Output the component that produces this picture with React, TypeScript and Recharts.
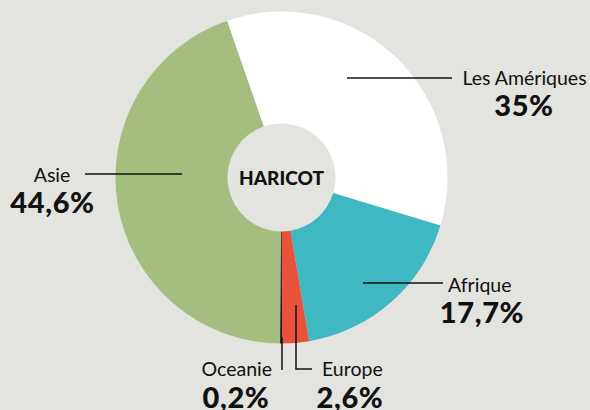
import React from "react";
import { PieChart, Pie, Cell } from "recharts";

const BG = "#e3e3df";
const INK = "#111111";

const regions = ["Asie", "Les Amériques", "Afrique", "Europe", "Oceanie"];
const shares = [44.6, 35, 17.7, 2.6, 0.2];
const colors = ["#a6bd80", "#ffffff", "#3fb8c1", "#e9523a", "#222222"];
const title = "HARICOT";

const data = regions.map((name, i) => ({ name, value: shares[i] }));

// label placement, offsets from the pie centre
type LabelLayout = {
  line: [number, number][];
  name: [number, number];
  pct: [number, number];
  anchor: "start" | "middle" | "end";
  pctAnchor?: "start" | "middle" | "end";
};

const layout: Record<string, LabelLayout> = {
  "Les Amériques": {
    line: [[65.5, -99.5], [170.5, -99.5]],
    name: [243, -92.5],
    pct: [242.5, -61.5],
    anchor: "middle",
  },
  Asie: {
    line: [[-99.5, -3.5], [-196.5, -3.5]],
    name: [-229.5, 4.5],
    pct: [-229, 35.5],
    anchor: "middle",
  },
  Afrique: {
    line: [[81.5, 105.5], [161.5, 105.5]],
    name: [166.5, 114.5],
    pct: [200.5, 145.5],
    anchor: "start",
    pctAnchor: "middle",
  },
  Oceanie: {
    line: [[0.5, 160], [0.5, 192.5]],
    name: [-9.5, 198.5],
    pct: [-45.5, 230.5],
    anchor: "end",
    pctAnchor: "middle",
  },
  Europe: {
    line: [[14.5, 127.5], [14.5, 191.5], [30.5, 191.5]],
    name: [40.5, 198.5],
    pct: [68.5, 230.5],
    anchor: "start",
    pctAnchor: "middle",
  },
};

const fmt = (v: number) => `${String(v).replace(".", ",")}%`;

function SliceLabel(props: any) {
  const { cx, cy, name, value } = props;
  const l = layout[name];
  if (!l) return null;
  const pts = l.line.map(([x, y]) => `${cx + x},${cy + y}`).join(" ");
  return (
    <g>
      <polyline points={pts} fill="none" stroke={INK} strokeWidth={1.5} />
      <text
        x={cx + l.name[0]}
        y={cy + l.name[1]}
        textAnchor={l.anchor}
        fill={INK}
        fontSize={19.5}
        fontFamily="Lato, sans-serif"
      >
        {name}
      </text>
      <text
        x={cx + l.pct[0]}
        y={cy + l.pct[1]}
        textAnchor={l.pctAnchor ?? l.anchor}
        fill={INK}
        fontSize={29}
        fontWeight={900}
        letterSpacing={0.6}
        fontFamily="Lato, sans-serif"
      >
        {fmt(value)}
      </text>
    </g>
  );
}

export default function App() {
  const cx = 281.5;
  const cy = 177.5;
  return (
    <div
      style={{
        position: "absolute",
        left: 0,
        top: 0,
        width: 590,
        height: 410,
        background: BG,
        overflow: "hidden",
      }}
    >
      <PieChart width={590} height={410} margin={{ top: 0, right: 0, bottom: 0, left: 0 }}>
        <Pie
          data={data}
          dataKey="value"
          nameKey="name"
          cx={cx}
          cy={cy}
          innerRadius={54}
          outerRadius={166}
          startAngle={-90.5}
          endAngle={-450.5}
          stroke="none"
          label={SliceLabel}
          labelLine={false}
          isAnimationActive={false}
        >
          {data.map((d, i) => (
            <Cell key={d.name} fill={colors[i]} />
          ))}
        </Pie>
        <text
          x={cx}
          y={cy + 7}
          textAnchor="middle"
          fill={INK}
          fontSize={19}
          fontWeight={900}
          fontFamily="Lato, sans-serif"
        >
          {title}
        </text>
      </PieChart>
    </div>
  );
}
